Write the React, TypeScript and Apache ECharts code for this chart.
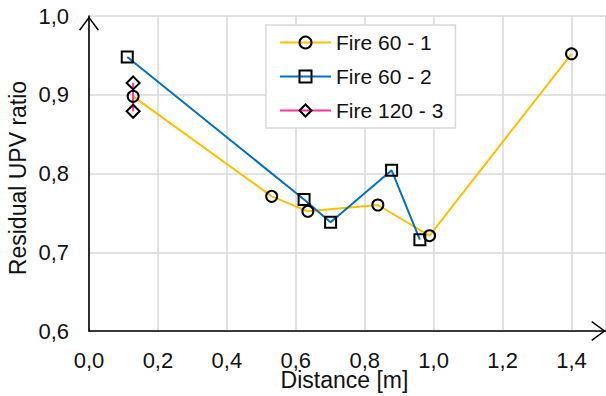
import React, { useEffect, useRef } from "react";
import * as echarts from "echarts";

// Residual UPV ratio against distance for each fire test
const seriesNames = ["Fire 60 - 1", "Fire 60 - 2", "Fire 120 - 3"];

const fire60_1_x = [0.128, 0.53, 0.635, 0.838, 0.988, 1.4];
const fire60_1_y = [0.898, 0.771, 0.752, 0.76, 0.721, 0.952];

const fire60_2_x = [0.111, 0.624, 0.701, 0.878, 0.96];
const fire60_2_y = [0.948, 0.767, 0.738, 0.804, 0.716];

const fire120_3_x = [0.128, 0.128];
const fire120_3_y = [0.915, 0.879];

const xTicks = { min: 0, max: 1.5, interval: 0.2 };
const yTicks = { min: 0.6, max: 1.0, interval: 0.1 };

const FONT = "'Liberation Sans', Arial, sans-serif";
const TEXT_COLOR = "#111";
const GRID_COLOR = "#d9d9d9";

// open chevron used as the arrow head at the end of each axis
const CHEVRON = "path://M10,0L20,13.6L18.8,14.5L10,2.4L1.2,14.5L0,13.6Z";

const pairs = (xs: number[], ys: number[]) => xs.map((x, i) => [x, ys[i]]);
const comma = (v: number) => v.toFixed(1).replace(".", ",");

export default function App() {
  const ref = useRef<HTMLDivElement>(null);

  useEffect(() => {
    if (!ref.current) return;
    const chart = echarts.init(ref.current, undefined, { renderer: "svg" });

    const markerStyle = {
      color: "transparent",
      borderColor: "#000",
      borderWidth: 2,
    };

    const axisLine = {
      show: true,
      lineStyle: { color: "#000", width: 1.6 },
      symbol: ["none", CHEVRON],
      symbolSize: [20, 15],
      symbolOffset: [0, -7.5],
    };

    chart.setOption({
      animation: false,
      backgroundColor: "#fff",
      textStyle: { fontFamily: FONT },
      grid: {
        left: 89,
        right: 0,
        top: 16,
        bottom: 65,
        containLabel: false,
        outerBoundsMode: "none",
      },
      legend: {
        data: seriesNames,
        orient: "vertical",
        left: 266,
        top: 25,
        padding: [7, 12, 7, 13],
        itemWidth: 51,
        itemHeight: 15,
        itemGap: 13,
        backgroundColor: "#fff",
        borderColor: GRID_COLOR,
        borderWidth: 1.5,
        borderRadius: 0,
        textStyle: {
          fontFamily: FONT,
          fontSize: 21,
          lineHeight: 21,
          color: TEXT_COLOR,
        },
      },
      xAxis: {
        type: "value",
        min: xTicks.min,
        max: xTicks.max,
        interval: xTicks.interval,
        name: "Distance [m]",
        nameLocation: "middle",
        nameGap: 40,
        nameMoveOverlap: false,
        nameTextStyle: {
          fontFamily: FONT,
          fontSize: 23,
          lineHeight: 18,
          color: TEXT_COLOR,
          padding: [0, 6, 0, 0],
        },
        axisLine,
        axisTick: { show: false },
        axisLabel: {
          margin: 21,
          fontFamily: FONT,
          fontSize: 22,
          lineHeight: 16,
          color: TEXT_COLOR,
          formatter: (v: number) => (v > 1.45 ? "" : comma(v)),
        },
        splitLine: { show: true, lineStyle: { color: GRID_COLOR, width: 1.5 } },
      },
      yAxis: {
        type: "value",
        min: yTicks.min,
        max: yTicks.max,
        interval: yTicks.interval,
        name: "Residual UPV ratio",
        nameLocation: "middle",
        nameGap: 60,
        nameMoveOverlap: false,
        nameTextStyle: {
          fontFamily: FONT,
          fontSize: 23,
          lineHeight: 23,
          color: TEXT_COLOR,
          padding: [0, 9, 0, 0],
        },
        axisLine,
        axisTick: { show: false },
        axisLabel: {
          margin: 20,
          fontFamily: FONT,
          fontSize: 22,
          lineHeight: 16,
          color: TEXT_COLOR,
          formatter: (v: number) => comma(v),
        },
        splitLine: { show: true, lineStyle: { color: GRID_COLOR, width: 1.5 } },
      },
      series: [
        {
          name: seriesNames[0],
          type: "line",
          data: pairs(fire60_1_x, fire60_1_y),
          symbol: "circle",
          symbolSize: 11,
          lineStyle: { color: "#ffc000", width: 2 },
          itemStyle: markerStyle,
        },
        {
          name: seriesNames[1],
          type: "line",
          data: pairs(fire60_2_x, fire60_2_y),
          symbol: "rect",
          symbolSize: 11,
          lineStyle: { color: "#0070c0", width: 2 },
          itemStyle: markerStyle,
        },
        {
          name: seriesNames[2],
          type: "line",
          data: pairs(fire120_3_x, fire120_3_y),
          symbol: "diamond",
          symbolSize: 13,
          lineStyle: { color: "#ff3399", width: 2 },
          itemStyle: markerStyle,
        },
      ],
    });

    return () => chart.dispose();
  }, []);

  return (
    <div
      ref={ref}
      style={{ position: "fixed", left: 0, top: 0, width: 606, height: 396 }}
    />
  );
}
